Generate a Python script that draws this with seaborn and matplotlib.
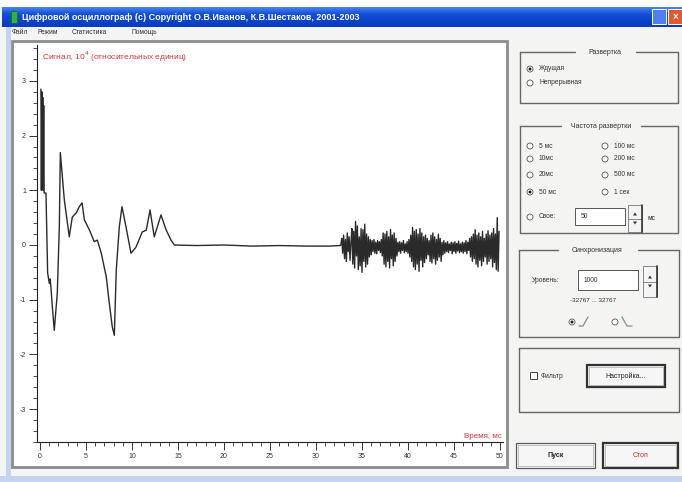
import numpy as np
import pandas as pd
import matplotlib.pyplot as plt
from matplotlib.patches import Rectangle, Circle, Polygon
from matplotlib.colors import LinearSegmentedColormap
from matplotlib.ticker import MultipleLocator
import seaborn as sns

# transient part of the trace: time, ms / signal, 10^4 units
event_t = [0.10, 0.15, 0.20, 0.25, 0.30, 0.35, 0.40, 0.45,
           0.65, 0.83, 1.01, 1.10, 1.20, 1.34, 1.55, 1.88, 2.10, 2.21,
           2.40, 2.64, 3.18, 3.51, 3.95, 4.27, 4.57, 4.82,
           5.36, 5.90, 6.23, 6.66, 7.20, 7.53, 7.86, 8.08,
           8.29, 8.62, 8.91, 9.35, 9.89, 10.43, 11.12, 11.55,
           11.96, 12.42, 13.15, 13.70, 14.24, 14.60,
           17.0, 20.0, 23.0, 26.0, 29.0, 31.5, 32.6]
event_v = [2.85, 1.00, 2.80, 1.05, 2.70, 1.00, 2.55, 0.95,
           0.95, -0.51, -0.70, -0.62, -0.80, -1.13, -1.56, -0.88, 0.33, 1.69,
           1.30, 0.83, 0.15, 0.51, 0.59, 0.70, 0.77, 0.46,
           0.28, 0.06, 0.09, -0.15, -0.58, -1.06, -1.50, -1.65,
           -0.46, 0.33, 0.70, 0.33, -0.15, -0.04, 0.24, 0.27,
           0.64, 0.15, 0.55, 0.28, 0.09, 0.00,
           -0.01, 0.00, -0.02, -0.01, -0.02, -0.02, -0.01]

# noisy tail, sampled every 0.1 ms from 32.7 ms
noise_t0 = 32.7
noise_dt = 0.1
noise_v = [0.00, 0.12, -0.15,
           0.18, -0.25, 0.10, -0.30, 0.22, -0.12, 0.15, -0.28, 0.05, 0.30,
           -0.35, 0.25, -0.42, 0.43, -0.20, 0.35, -0.45, 0.15, -0.38, 0.30,
           -0.50, 0.28, -0.30, 0.38, -0.40, 0.20, -0.35, 0.15, -0.22, 0.10,
           -0.18, 0.08, -0.12, 0.10, -0.15, 0.05, -0.16, 0.08, -0.10, 0.06,
           -0.14, 0.10, -0.20, 0.22, -0.35, 0.20, -0.40, 0.25, -0.30, 0.15,
           -0.42, 0.28, -0.25, 0.18, -0.38, 0.22, -0.30, 0.12, -0.20, 0.05,
           -0.12, 0.06, -0.15, 0.04, -0.10, 0.08, -0.14, 0.02, -0.12, 0.06,
           -0.15, 0.10, -0.22, 0.18, -0.30, 0.32, -0.40, 0.25, -0.45, 0.28,
           -0.35, 0.20, -0.48, 0.30, -0.28, 0.22, -0.40, 0.15, -0.32, 0.18,
           -0.25, 0.12, -0.18, 0.08, -0.30, 0.18, -0.33, 0.22, -0.25, 0.15,
           -0.35, 0.10, -0.28, 0.20, -0.22, 0.12, -0.30, 0.05, -0.18, 0.08,
           -0.15, 0.04, -0.12, 0.06, -0.14, 0.02, -0.10, 0.05, -0.16, 0.04,
           -0.12, 0.06, -0.15, 0.03, -0.11, 0.07, -0.14, 0.02, -0.12, 0.05,
           -0.15, 0.04, -0.12, 0.08, -0.16, 0.05, -0.10, 0.12, -0.22, 0.15,
           -0.30, 0.20, -0.25, 0.28, -0.35, 0.18, -0.40, 0.22, -0.28, 0.15,
           -0.38, 0.25, -0.30, 0.12, -0.22, 0.20, -0.35, 0.26, -0.30, 0.18,
           -0.25, 0.22, -0.40, 0.30, -0.32, 0.20, -0.45, 0.50, -0.48, 0.25]

x_ticks = [0, 5, 10, 15, 20, 25, 30, 35, 40, 45, 50]
y_ticks = [-3, -2, -1, 0, 1, 2, 3]

window_title = "Цифровой осциллограф (с) Copyright О.В.Иванов, К.В.Шестаков, 2001-2003"
menu_items = ["Файл", "Режим", "Статистика", "Помощь"]
signal_label = "Сигнал, 10$^4$ (относительных единиц)"
time_label = "Время, мс"

sweep_modes = ["Ждущая", "Непрерывная"]
rates_left = ["5 мс", "10мс", "20мс", "50 мс"]
rates_right = ["100 мс", "200 мс", "500 мс", "1 сек"]

sns.set_theme(style="white")
plt.rcParams['font.family'] = ['Liberation Sans', 'DejaVu Sans']
plt.rcParams['axes.unicode_minus'] = False

W, H = 682, 482
fig = plt.figure(figsize=(W / 100, H / 100), dpi=100, facecolor='white')

# window chrome in pixel coordinates
ui = fig.add_axes([0, 0, 1, 1], zorder=0)
ui.axis('off')

ui.add_patch(Rectangle((0, 7), W, H - 7, fc='#f4f4f2', ec='none', zorder=0))
blue = LinearSegmentedColormap.from_list('xp', ['#4a80ee', '#1450d8', '#0c44cc', '#0a3cbc'])
ui.imshow(np.linspace(0, 1, 20).reshape(-1, 1), extent=[2, W, 27, 7], aspect='auto',
          cmap=blue, zorder=1)
ui.add_patch(Rectangle((11, 11), 6, 12, fc='#2fb040', ec='#1a6a20', lw=0.5, zorder=2))
ui.text(22, 17.5, window_title, fontsize=6.5, color='white', fontweight='bold', va='center', zorder=3)
ui.add_patch(Rectangle((652, 9), 14, 15, fc='#4d7ff0', ec='white', lw=0.7, zorder=2))
ui.add_patch(Rectangle((668, 9), 14, 15, fc='#e05a30', ec='white', lw=0.7, zorder=2))
ui.text(675, 16.5, "×", fontsize=7, color='white', ha='center', va='center', fontweight='bold', zorder=3)

menu_x = [12, 37, 72, 132]
for mx, name in zip(menu_x, menu_items):
    ui.text(mx, 33, name, fontsize=4.8, color='#333333', va='center')

ui.add_patch(Rectangle((6, 27), 5, H - 27, fc='#c4d4f0', ec='none'))
ui.add_patch(Rectangle((0, 476), W, 6, fc='#c4d4f0', ec='none'))
ui.add_patch(Rectangle((12, 41), 495, 426, fc='white', ec='#8c8c8c', lw=2.0))

gc = '#666666'


def group(x0, y0, x1, y1, title=None, gap=None, cx=None):
    if title:
        ui.plot([x0, gap[0]], [y0, y0], color=gc, lw=1.0)
        ui.plot([gap[1], x1], [y0, y0], color=gc, lw=1.0)
        ui.text(cx, y0, title, fontsize=5, color='#333333', ha='center', va='center')
    else:
        ui.plot([x0, x1], [y0, y0], color=gc, lw=1.0)
    ui.plot([x0, x0, x1, x1], [y0, y1, y1, y0], color=gc, lw=1.0)


def radio(x, y, label, on=False):
    ui.add_patch(Circle((x, y), 3.0, fc='white', ec='#555555', lw=0.6))
    if on:
        ui.add_patch(Circle((x, y), 1.5, fc='#222222', ec='none'))
    if label:
        ui.text(x + 9, y, label, fontsize=4.8, color='#333333', va='center')


def edit(x0, y0, x1, y1, text):
    ui.add_patch(Rectangle((x0, y0), x1 - x0, y1 - y0, fc='white', ec='#555555', lw=0.7))
    ui.text(x0 + 6, (y0 + y1) / 2, text, fontsize=4.8, color='#333333', va='center')


def spin(x0, y0, x1, y1):
    ym = (y0 + y1) / 2
    ui.add_patch(Rectangle((x0, y0), x1 - x0, y1 - y0, fc='#f4f4f4', ec='#777777', lw=0.6))
    ui.plot([x0, x1], [ym, ym], color='#777777', lw=0.6)
    ui.plot([x1, x1], [y0, y1], color='#333333', lw=1.2)
    c = (x0 + x1) / 2
    ui.add_patch(Polygon([(c - 2, ym - 3), (c + 2, ym - 3), (c, ym - 6)], fc='#333333', ec='none'))
    ui.add_patch(Polygon([(c - 2, ym + 3), (c + 2, ym + 3), (c, ym + 6)], fc='#333333', ec='none'))


def button(x0, y0, x1, y1, text, color='#222222', bold=False, strong=False):
    ui.add_patch(Rectangle((x0, y0), x1 - x0, y1 - y0, fc='#f6f6f6',
                           ec='#333333' if strong else '#5a5a5a', lw=1.6 if strong else 0.9))
    ui.add_patch(Rectangle((x0 + 2, y0 + 2), x1 - x0 - 4, y1 - y0 - 4, fc='none', ec='#aaaaaa', lw=0.5))
    ui.text((x0 + x1) / 2, (y0 + y1) / 2, text, fontsize=5, color=color, ha='center', va='center',
            fontweight='bold' if bold else 'normal')


group(520, 52, 678, 103, "Развертка", (575, 636), 605)
radio(530, 69, sweep_modes[0], on=True)
radio(530, 83, sweep_modes[1])

group(520, 126, 678, 233, "Частота развертки", (561, 641), 601)
rows = [146, 159, 175, 192]
for i, y in enumerate(rows):
    radio(530, y, rates_left[i], on=(i == 3))
    radio(605, y, rates_right[i])
radio(530, 217, "Свое:")
edit(575, 208, 625, 225, "50")
spin(628, 205, 642, 232)
ui.text(648, 219, "мс", fontsize=4.8, color='#333333', va='center')

group(519, 250, 679, 337, "Синхронизация", (558, 638), 597)
ui.text(532, 281, "Уровень:", fontsize=4.8, color='#333333', va='center')
edit(578, 270, 638, 290, "1000")
spin(643, 266, 657, 297)
ui.text(593, 301, "-32767 ... 32767", fontsize=4.6, color='#333333', ha='center', va='center')
radio(572, 322, None, on=True)
ui.plot([579, 583, 588], [326, 326, 317], color='#7a9a7a', lw=0.9)
radio(615, 322, None)
ui.plot([622, 627, 632], [317, 326, 326], color='#7a9a7a', lw=0.9)

group(519, 348, 679, 412)
ui.add_patch(Rectangle((530, 372), 7, 7, fc='white', ec='#444444', lw=0.7))
ui.text(541, 376, "Фильтр", fontsize=4.8, color='#333333', va='center')
button(587, 365, 665, 387, "Настройка...", strong=True)

button(516, 443, 595, 468, "Пуск", bold=True)
button(603, 443, 678, 468, "Стоп", color='#c03030', strong=True)

ui.set_xlim(0, W)
ui.set_ylim(H, 0)

# oscillogram
trace = pd.concat([
    pd.DataFrame({'t': event_t, 'v': event_v}),
    pd.DataFrame({'t': noise_t0 + noise_dt * np.arange(len(noise_v)), 'v': noise_v}),
], ignore_index=True)

ax = fig.add_axes([37 / W, 1 - 442 / H, 466 / W, 397 / H], zorder=2)
ax.set_facecolor('white')
sns.lineplot(data=trace, x='t', y='v', ax=ax, color='#2a2a2a', linewidth=1.0,
             estimator=None, sort=False)
ax.set_xlim(-3 / 9.2, 50 + 3 / 9.2)
ax.set_ylim(-(442 - 245) / 54.7, (245 - 45) / 54.7)
ax.set_xticks(x_ticks)
ax.set_yticks(y_ticks)
ax.xaxis.set_minor_locator(MultipleLocator(1))
ax.yaxis.set_minor_locator(MultipleLocator(0.2))
ax.tick_params(which='major', length=6, width=0.7, labelsize=5, pad=2,
               colors='#333333', bottom=True, left=True)
ax.tick_params(which='minor', length=3, width=0.6, color='#333333', bottom=True, left=True)
ax.set_xlabel('')
ax.set_ylabel('')
for side in ['top', 'right']:
    ax.spines[side].set_visible(False)
for side in ['left', 'bottom']:
    ax.spines[side].set_color('#222222')
    ax.spines[side].set_linewidth(0.8)

ax.text(42, 57, signal_label, transform=ui.transData, fontsize=6.0, color='#d03a3a', va='center')
ax.text(502, 437, time_label, transform=ui.transData, fontsize=5.8, color='#d03a3a',
        va='center', ha='right')

fig.savefig('out.png', dpi=100, facecolor=fig.get_facecolor())
